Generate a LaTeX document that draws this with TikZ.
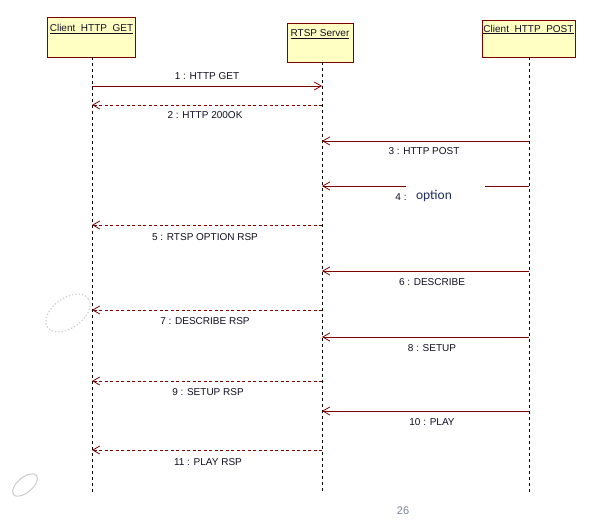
\documentclass[tikz,border=0pt]{standalone}
\usepackage{fontspec}
\setmainfont{Liberation Sans}
\newfontfamily\optfont{Carlito}
\usetikzlibrary{arrows.meta}
\definecolor{msgred}{HTML}{800000}
\definecolor{boxfill}{HTML}{FFFFC4}
\definecolor{labtxt}{HTML}{101020}
\definecolor{opttxt}{HTML}{1F3060}
\definecolor{pagenum}{HTML}{7A8499}
\tikzset{
  lifebox/.style={draw=msgred, line width=0.9pt, fill=boxfill, inner sep=0pt},
  boxlabel/.style={font=\fontsize{10}{12}\selectfont, text=labtxt, inner sep=0pt},
  lifeline/.style={black, dashed, dash pattern=on 3pt off 3pt, line width=0.7pt},
  callmsg/.style={msgred, line width=0.8pt, -{Straight Barb[length=7pt,width=8pt,line width=0.8pt]}},
  retmsg/.style={msgred, line width=0.8pt, dash pattern=on 3pt off 2.5pt, -{Straight Barb[length=7pt,width=8pt,line width=0.8pt]}},
  plainmsg/.style={msgred, line width=0.8pt},
  msglabel/.style={font=\fontsize{10}{12}\selectfont, text=labtxt, inner sep=0pt}
}
\begin{document}
\begin{tikzpicture}[x=1pt,y=-1pt]
\useasboundingbox (0,0) rectangle (613,521);
\fill[white] (0,0) rectangle (613,521);

% lifeline boxes
\node[lifebox, minimum width=88pt, minimum height=40pt] (get) at (91.5,37) {};
\node[lifebox, minimum width=66pt, minimum height=39pt] (srv) at (320,42.5) {};
\node[lifebox, minimum width=93pt, minimum height=37pt] (post) at (528.5,38.5) {};
\node[boxlabel] (getlab) at (91.5,29) {\underline{Client\ \ HTTP\ \ GET}};
\node[boxlabel] (srvlab) at (320,34) {\underline{RTSP Server}};
\node[boxlabel] (postlab) at (528.5,29.5) {\underline{Client\ \ HTTP\ \ POST}};

% lifelines
\coordinate (getend) at (92,492);
\coordinate (srvend) at (322,492);
\coordinate (postend) at (529,492);
\draw[lifeline] (get.south -| getend) -- (getend);
\draw[lifeline] (srv.south -| srvend) -- (srvend);
\draw[lifeline] (post.south -| postend) -- (postend);

% message anchor points
\foreach \n/\y in {1/86,2/105,3/141,4/186,5/225,6/271,7/310,8/337,9/381,10/411,11/450}{
  \coordinate (g\n) at (92,\y);
  \coordinate (s\n) at (322,\y);
  \coordinate (p\n) at (529,\y);
}
\coordinate (gapL) at (406,186);
\coordinate (gapR) at (485,186);

% messages
\draw[callmsg] (g1) -- (s1);
\draw[retmsg] (s2) -- (g2);
\draw[callmsg] (p3) -- (s3);
\draw[plainmsg] (p4) -- (gapR);
\draw[callmsg] (gapL) -- (s4);
\draw[retmsg] (s5) -- (g5);
\draw[callmsg] (p6) -- (s6);
\draw[retmsg] (s7) -- (g7);
\draw[callmsg] (p8) -- (s8);
\draw[retmsg] (s9) -- (g9);
\draw[callmsg] (p10) -- (s10);
\draw[retmsg] (s11) -- (g11);

% labels
\node[msglabel] (l1) at (207,76) {1 : HTTP GET};
\node[msglabel] (l2) at (205,115.5) {2 : HTTP 200OK};
\node[msglabel] (l3) at (424,151) {3 : HTTP POST};
\node[msglabel] (l4) at (401,197) {4 :};
\node[font=\optfont\fontsize{13.5}{15}\selectfont, text=opttxt, inner sep=0pt] (l4b) at (434,195.5) {option};
\node[msglabel] (l5) at (205,237) {5 : RTSP OPTION RSP};
\node[msglabel] (l6) at (432,282) {6 : DESCRIBE};
\node[msglabel] (l7) at (205,321.5) {7 : DESCRIBE RSP};
\node[msglabel] (l8) at (432,348) {8 : SETUP};
\node[msglabel] (l9) at (208,392) {9 : SETUP RSP};
\node[msglabel] (l10) at (432,422) {10 : PLAY};
\node[msglabel] (l11) at (208,462) {11 : PLAY RSP};

% decorative ellipses
\draw[gray!35, line width=1.3pt, dotted, rotate around={35:(68,313)}] (68,313) ellipse [x radius=25pt, y radius=15pt];
\draw[gray!40, line width=1pt, rotate around={40:(25,485)}] (25,485) ellipse [x radius=15pt, y radius=7.5pt];

% page number
\node[font=\fontsize{11}{13}\selectfont, text=pagenum, inner sep=0pt] (pg) at (403,510.5) {26};
\end{tikzpicture}
\end{document}
